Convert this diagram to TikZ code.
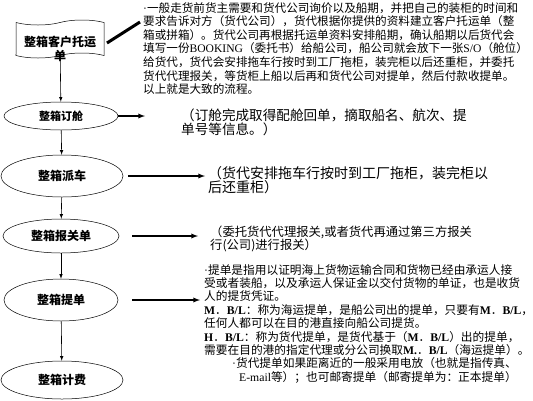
\documentclass[tikz,border=0pt]{standalone}
\usepackage{fontspec}
\setmainfont{Noto Sans CJK SC}
\newfontfamily\latinfont{Liberation Serif}
\newcommand\mbl{{\latinfont\bfseries M}．{\latinfont\bfseries B/L}}
\newcommand\dotmark{{\latinfont ·}}
\usetikzlibrary{shapes.geometric,shapes.symbols,arrows}

\begin{document}
\begin{tikzpicture}[x=1pt,y=-1pt,>=latex,
  stage/.style={ellipse,draw,line width=.5pt,inner sep=0pt,font=\bfseries\fontsize{12}{14}\selectfont},
  note/.style={anchor=north west,inner sep=0pt,align=left}]
  \useasboundingbox (0,0) rectangle (533,400);
  \node[tape,draw,line width=.5pt,minimum width=88pt,minimum height=38pt,
    label={[yshift=-10pt,align=center,font=\bfseries\fontsize{12}{14}\selectfont]center:整箱客户托运\\单}] (order) at (60,39) {};
  \node[stage,minimum width=114pt,minimum height=28pt,font=\bfseries\fontsize{11}{13}\selectfont] (booking) at (61,116) {整箱订舱};
  \node[stage,minimum width=122pt,minimum height=42pt] (dispatch) at (62,176) {整箱派车};
  \node[stage,minimum width=116pt,minimum height=34pt] (customs) at (61,236) {整箱报关单};
  \node[stage,minimum width=114pt,minimum height=42pt] (lading) at (61,300) {整箱提单};
  \node[stage,minimum width=122pt,minimum height=38pt] (billing) at (62,380) {整箱计费};
  % texts
  \node[note,font=\fontsize{11.6}{13.6}\selectfont] (ordertxt) at (143,2)
    {\dotmark 一般走货前货主需要和货代公司询价以及船期，并把自己的装柜的时间和\\
     要求告诉对方（货代公司），货代根据你提供的资料建立客户托运单（整\\
     箱或拼箱）。货代公司再根据托运单资料安排船期，确认船期以后货代会\\
     填写一份{\latinfont BOOKING}（委托书）给船公司，船公司就会放下一张{\latinfont S/O}（舱位）\\
     给货代，货代会安排拖车行按时到工厂拖柜，装完柜以后还重柜，并委托\\
     货代代理报关，等货柜上船以后再和货代公司对提单，然后付款收提单。\\
     以上就是大致的流程。};
  \node[note,font=\fontsize{13.6}{13.4}\selectfont] (bookingtxt) at (181,109)
    {（订舱完成取得配舱回单，摘取船名、航次、提\\
     单号等信息。）};
  \node[note,font=\fontsize{14}{14}\selectfont] (dispatchtxt) at (208,166)
    {（货代安排拖车行按时到工厂拖柜，装完柜以\\
     后还重柜）};
  \node[note,font=\fontsize{12.3}{13}\selectfont] (customstxt) at (210,226)
    {（委托货代代理报关,或者货代再通过第三方报关\\
     行(公司)进行报关）};
  \node[note,font=\fontsize{11.7}{13.4}\selectfont] (ladingtxt) at (204,264)
    {\dotmark 提单是指用以证明海上货物运输合同和货物已经由承运人接\\
     受或者装船，以及承运人保证金以交付货物的单证，也是收货\\
     人的提货凭证。\\
     \mbl：称为海运提单，是船公司出的提单，只要有\mbl，\\
     任何人都可以在目的港直接向船公司提货。\\
     {\latinfont\bfseries H}．{\latinfont\bfseries B/L}：称为货代提单，是货代基于（\mbl）出的提单，\\
     需要在目的港的指定代理或分公司换取{\latinfont\bfseries M.}．{\latinfont\bfseries B/L}（海运提单）。\\
     \hspace*{28pt}\dotmark 货代提单如果距离近的一般采用电放（也就是指传真、\\
     \hspace*{35pt}{\latinfont E-mail}等）；也可邮寄提单（邮寄提单为：正本提单）};
  \coordinate (c1) at (107,43);
  \coordinate (c2) at (140,22);
  \coordinate (a1) at (145,116);
  \coordinate (a2) at (205,176);
  \coordinate (a3) at (198,236);
  \coordinate (a4) at (200,300);
  \path[-,line width=3pt]
    (c1) edge (c2);
  \path[->,line width=.6pt]
    (order) edge (booking)
    (booking) edge (dispatch)
    (dispatch) edge (customs)
    (customs) edge (lading)
    (lading) edge (billing);
  \path[->,line width=1.3pt]
    (booking.east) edge (a1)
    (dispatch.east) edge[shorten <=5pt] (a2)
    (customs.east) edge[shorten <=13pt] (a3)
    (lading.east) edge[shorten <=14pt] (a4);
\end{tikzpicture}
\end{document}
